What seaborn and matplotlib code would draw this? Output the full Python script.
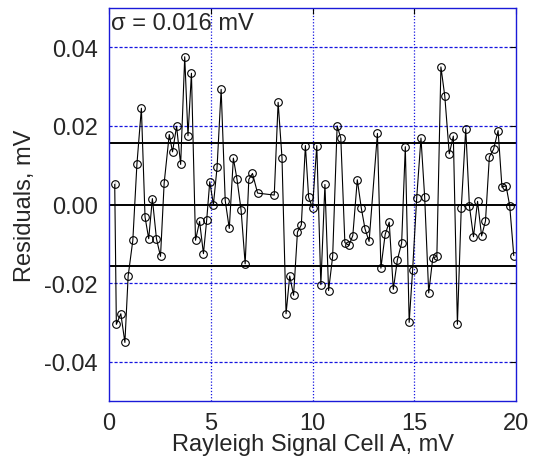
import numpy as np
import pandas as pd
import seaborn as sns
import matplotlib.pyplot as plt

# Rayleigh signal (mV) and residuals (mV)
signal = [0.28, 0.28, 0.36, 0.58, 0.78, 0.94, 1.17, 1.37, 1.59, 1.77,
          1.95, 2.13, 2.33, 2.53, 2.71, 2.96, 3.12, 3.32, 3.52, 3.72,
          3.88, 4.05, 4.25, 4.45, 4.64, 4.80, 4.95, 5.13, 5.31, 5.51,
          5.71, 5.91, 6.11, 6.29, 6.49, 6.69, 6.87, 7.05, 7.30, 8.12,
          8.31, 8.50, 8.70, 8.88, 9.07, 9.26, 9.45, 9.65, 9.81, 10.00,
          10.21, 10.41, 10.61, 10.79, 10.99, 11.21, 11.39, 11.59, 11.79, 11.98,
          12.20, 12.40, 12.58, 12.78, 13.19, 13.36, 13.57, 13.77, 13.97, 14.17,
          14.38, 14.56, 14.75, 14.92, 15.12, 15.33, 15.51, 15.71, 15.91, 16.11,
          16.31, 16.50, 16.72, 16.92, 17.12, 17.31, 17.53, 17.71, 17.91, 18.11,
          18.31, 18.50, 18.69, 18.90, 19.12, 19.31, 19.51, 19.69, 19.89]
residual = [0.0061, 0.0042, -0.0305, -0.0278, -0.0351, -0.0182, -0.0091, 0.0102, 0.0245, -0.0032,
            -0.0087, 0.0015, -0.0087, -0.0132, 0.0055, 0.0178, 0.0134, 0.0199, 0.0102, 0.0376,
            0.0175, 0.0334, -0.0091, -0.0043, -0.0125, -0.0039, 0.0058, 0.0000, 0.0095, 0.0293,
            0.0010, -0.0061, 0.0118, 0.0064, -0.0014, -0.0151, 0.0064, 0.0079, 0.0029, 0.0024,
            0.0260, 0.0119, -0.0278, -0.0182, -0.0231, -0.0070, -0.0052, 0.0150, 0.0018, -0.0008,
            0.0150, -0.0204, 0.0051, -0.0219, -0.0132, 0.0200, 0.0169, -0.0097, -0.0104, -0.0079,
            0.0063, -0.0010, -0.0062, -0.0094, 0.0181, -0.0162, -0.0076, -0.0045, -0.0216, -0.0141,
            -0.0098, 0.0147, -0.0300, -0.0166, 0.0017, 0.0169, 0.0020, -0.0225, -0.0136, -0.0132,
            0.0350, 0.0276, 0.0129, 0.0174, -0.0305, -0.0009, 0.0193, -0.0004, -0.0082, 0.0008,
            -0.0080, -0.0042, 0.0121, 0.0141, 0.0188, 0.0044, 0.0048, -0.0003, -0.0130]
sigma = 0.0157
xticks = [0, 5, 10, 15, 20]
yticks = [-0.04, -0.02, 0.00, 0.02, 0.04]

df = pd.DataFrame({"signal": signal, "residual": residual})

sns.set_style("white")
plt.rcParams['font.family'] = ['Liberation Sans', 'DejaVu Sans']

fig = plt.figure(figsize=(5.36, 4.64), dpi=100)
ax = fig.add_axes([0.2034, 0.1336, 0.7593, 0.847])

# grid first so the data sits on top
for xv in xticks[1:-1]:
    ax.axvline(xv, color="#1515e0", linestyle=(0, (1, 1.5)), linewidth=0.9, zorder=0)
for yv in yticks:
    if yv != 0:
        ax.axhline(yv, color="#1515e0", linestyle=(0, (2.5, 1.5)), linewidth=0.9, zorder=0)

# zero and +/- sigma lines
for yv in [-sigma, 0.0, sigma]:
    ax.axhline(yv, color="black", linewidth=1.4, zorder=1)

sns.lineplot(data=df, x="signal", y="residual", sort=False, ax=ax,
             color="black", linewidth=0.8, marker="o", markersize=5.5,
             markerfacecolor="none", markeredgecolor="black", markeredgewidth=0.8,
             zorder=2)

ax.set_xlim(0, 20)
ax.set_ylim(-0.05, 0.05)
ax.set_xticks(xticks)
ax.set_yticks(yticks)
ax.set_xticklabels([str(t) for t in xticks])
ax.set_yticklabels(["-0.04", "-0.02", "0.00", "0.02", "0.04"])
ax.tick_params(direction="in", length=4, width=0.8, color="black",
               top=True, right=True, labelsize=17, pad=8)

for sp in ax.spines.values():
    sp.set_color("#1a1ad8")
    sp.set_linewidth(1.0)

ax.set_xlabel("Rayleigh Signal Cell A, mV", fontsize=17, labelpad=-1)
ax.set_ylabel("Residuals, mV", fontsize=17, labelpad=6)
ax.text(0.005, 0.99, "σ = 0.016 mV", transform=ax.transAxes, fontsize=17,
        ha="left", va="top")

fig.savefig("out.png", dpi=100)
